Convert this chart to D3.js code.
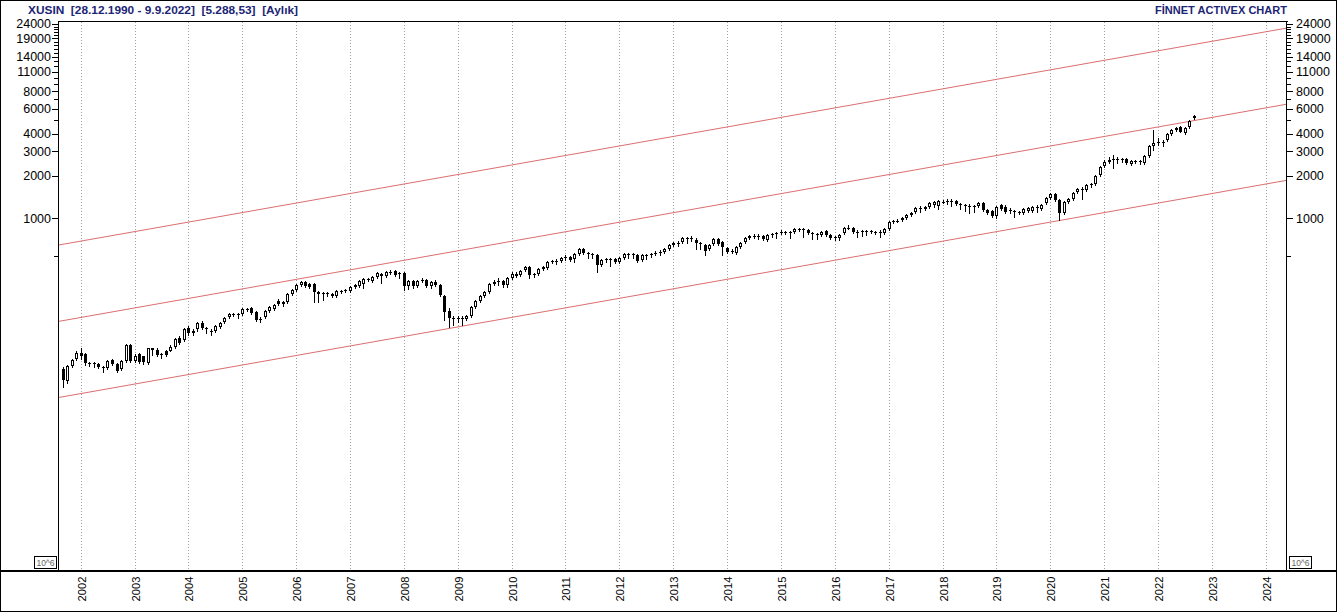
<!DOCTYPE html>
<html><head><meta charset="utf-8">
<script src="https://cdn.jsdelivr.net/npm/d3@7"></script>
<style>
body{margin:0;background:#fff}
svg{display:block}
text{font-family:"Liberation Sans",Arial,sans-serif}
</style>
</head><body>
<svg id="c" width="1337" height="612"></svg>
<script>
// ---- data (monthly XUSIN candles) ----
const firstMonth = [2001, 8]; // Sep 2001
const opens = [
85.7,70.4,90.1,101,
111.4,109.6,94.6,93.0,93.0,88.6,87.1,99.3,93.0,85.7,97.7,127,
97.7,109.6,104.4,94.6,119.0,117.0,107.8,115.1,115.1,122.9,142.4,137.8,
165.1,152.1,162.4,179.2,165.1,159.7,157.2,167.8,182.1,197.6,207.6,207.6,
207.6,225.3,229.0,214.5,191.3,197.6,218.1,225.3,256.9,244.5,252.7,288.0,
307.5,333.8,350.6,339.3,339.3,297.6,288.0,292.8,288.0,278.8,302.5,302.5,
302.5,333.8,328.4,339.3,368.3,356.4,380.5,399.7,386.8,413.0,419.8,399.7,
406.3,328.4,356.4,328.4,356.4,362.3,328.4,350.6,333.8,278.8,218.1,194.4,
194.4,194.4,191.3,200.9,232.8,256.9,278.8,297.6,339.3,350.6,356.4,333.8,
374.3,399.7,393.2,426.7,448.2,403,399.7,433.8,440.9,486.5,494.5,494.5,
519.4,528.0,510.9,554.5,601.9,563.7,554.5,545.5,463.1,502.7,510.9,510.9,
486.5,519.4,554.5,554.5,545.5,502.7,545.5,545.5,554.5,563.7,573.0,601.9,
642.7,664.1,675.0,720.7,709.0,697.5,664.1,642.7,601.9,653.3,709.0,675.0,
611.8,582.5,563.7,621.9,675.0,720.7,744.7,744.7,744.7,697.5,757.0,769.5,
782.2,795.1,795.1,795.1,835.1,835.1,821.6,782.2,769.5,757.0,808.3,757.0,
720.7,720.7,782.2,848.9,848.9,795.1,795.1,808.3,808.3,795.1,795.1,782.2,
835.1,936.6,952.1,967.8,1000,1050,1103,1178,1197,1197,1237,1217,
1300,1300,1321,1321,1258,1237,1217,1217,1217,1278,1140,1121,
1033,1237,1197,1121,1121,1103,1085,1121,1121,1197,1159,1278,
1388,1481,1343,1085,1300,1365,1531,1608,1582,1717,1745,2022,
2343,2502,2585,2628,2628,2628,2421,2543,2543,2461,2760,3251,
3415,3472,3587,3958,4226,4438,4023,4438,5143
];
const highs = [
88.6,91.5,101,115.1,
120.9,111.4,96.1,96.1,94.6,90.1,99.3,101,94.6,99.3,129.1,129.1,
109.6,111.4,106.1,120.9,120.9,119.0,111.4,117.0,125,142.4,144.8,165.1,
170.6,162.4,182.1,185.1,167.8,162.4,173.4,182.1,197.6,211.0,211.0,211.0,
229.0,229.0,232.8,218.1,197.6,221.7,236.7,244.5,265.4,256.9,292.8,312.6,
339.3,356.4,356.4,344.9,344.9,302.5,297.6,297.6,292.8,307.5,307.5,312.6,
328.4,339.3,362.3,374.3,374.3,386.8,413.0,406.3,419.8,426.7,426.7,413.0,
413.0,362.3,362.3,362.3,374.3,368.3,356.4,362.3,339.3,283.4,229.0,200.9,
200.9,200.9,204.2,236.7,261.1,283.4,302.5,344.9,362.3,374.3,362.3,380.5,
413.0,413.0,426.7,455.6,455.6,406.3,440.9,455.6,494.5,502.7,510.9,528.0,
545.5,536.7,563.7,611.8,611.8,573.0,563.7,554.5,510.9,519.4,519.4,519.4,
528.0,563.7,563.7,563.7,554.5,554.5,554.5,563.7,582.5,592.1,611.8,653.3,
675.0,686.2,732.6,732.6,744.7,720.7,675.0,653.3,653.3,720.7,720.7,686.2,
621.9,601.9,632.2,675.0,732.6,757.0,769.5,769.5,757.0,769.5,782.2,795.1,
821.6,808.3,808.3,848.9,848.9,848.9,835.1,795.1,782.2,808.3,821.6,769.5,
744.7,769.5,862.9,891.7,862.9,821.6,821.6,821.6,821.6,808.3,821.6,848.9,
952.1,967.8,983.8,1017,1068,1103,1197,1217,1217,1300,1321,1343,
1343,1365,1365,1343,1278,1258,1258,1237,1300,1300,1159,1140,
1217,1258,1237,1178,1140,1121,1178,1197,1217,1237,1258,1410,
1506,1506,1365,1321,1388,1531,1634,1661,1745,1774,2022,2343,
2585,2716,2806,2716,2671,2671,2585,2585,2585,2806,3305,4226,
3707,3587,4023,4295,4438,4512,4438,4978,5402
];
const lows = [
63.9,68.2,88.6,99.3,
101,91.5,90.1,88.6,87.1,81.6,85.7,91.5,81.6,84.3,96.1,96.1,
96.1,94.6,93.0,93.0,107.8,106.1,102.7,106.1,113.3,120.9,129.1,135.6,
149.6,147.2,159.7,162.4,152.1,149.6,154.6,165.1,179.2,194.4,200.9,194.4,
204.2,218.1,207.6,185.1,182.1,194.4,214.5,221.7,240.6,236.7,248.6,283.4,
302.5,328.4,323.0,317.8,252.7,252.7,261.1,278.8,274.2,274.2,292.8,297.6,
297.6,317.8,323.0,317.8,356.4,350.6,374.3,344.9,380.5,399.7,386.8,374.3,
307.5,312.6,317.8,323.0,350.6,323.0,317.8,328.4,278.8,188.2,167.8,173.4,
182.1,173.4,188.2,197.6,229.0,252.7,274.2,292.8,333.8,333.8,323.0,323.0,
368.3,380.5,386.8,419.8,374.3,380.5,393.2,426.7,433.8,478.6,470.8,486.5,
502.7,494.5,486.5,545.5,554.5,519.4,519.4,413.0,455.6,486.5,455.6,478.6,
478.6,515,519.4,519.4,486.5,494.5,510.9,528.0,545.5,545.5,563.7,592.1,
632.2,632.2,664.1,664.1,686.2,601.9,601.9,545.5,592.1,642.7,642.7,545.5,
563.7,563.7,554.5,611.8,664.1,709.0,720.7,709.0,697.5,686.2,732.6,720.7,
769.5,769.5,720.7,782.2,808.3,732.6,769.5,709.0,709.0,744.7,744.7,709.0,
697.5,697.5,769.5,835.1,782.2,732.6,744.7,757.0,782.2,769.5,732.6,769.5,
821.6,921.4,936.6,952.1,983.8,1033,1085,1103,1140,1178,1197,1159,
1278,1258,1217,1237,1159,1121,1085,1103,1197,1121,1068,1017,
1000,1140,1085,1085,1017,1068,1068,1103,1103,1103,1140,1258,
1365,1321,967.8,1068,1278,1343,1506,1365,1556,1661,1717,1989,
2305,2461,2268,2461,2502,2421,2382,2461,2421,2421,2716,3045,
3305,3251,3529,3893,4157,4090,3958,4366,5060
];
const closes = [
71.6,90.1,99.3,111.4,
104.4,94.6,93.0,94.6,88.6,87.1,97.7,93.0,83.0,97.7,127,97.7,
106.1,96.1,96.1,119.0,117.0,107.8,109.6,107.8,122.9,140.1,131.2,162.4,
152.1,159.7,179.2,165.1,162.4,157.2,170.6,179.2,194.4,207.6,209,204.2,
225.3,226,211.0,188.2,188.2,218.1,232.8,240.6,244.5,252.7,288.0,307.5,
333.8,350.6,328.4,323.0,297.6,288.0,292.8,290,278.8,302.5,300,307.5,
323.0,323.0,356.4,368.3,370,380.5,406.3,386.8,413.0,415,393.2,406.3,
328.4,356.4,328.4,356.4,362.3,328.4,350.6,333.8,283.4,214.5,194.4,196,
193,191.3,200.9,232.8,256.9,278.8,297.6,339.3,350.6,356.4,333.8,374.3,
399.7,386.8,419.8,448.2,393.2,393.2,433.8,448.2,486.5,494.5,490,519.4,
528.0,502.7,554.5,601.9,563.7,554.5,545.5,463.1,502.7,510.9,502.7,486.5,
519.4,554.5,557,545.5,494.5,545.5,548,554.5,563.7,573.0,601.9,642.7,
664.1,667,720.7,709.0,720.7,664.1,653.3,582.5,642.7,709.0,653.3,621.9,
573.0,585,621.9,664.1,720.7,744.7,748,742,709.0,757.0,769.5,782.2,
795.1,792,782.2,835.1,832,821.6,782.2,769.5,757.0,795.1,757.0,720.7,
732.6,757.0,848.9,852,795.1,798,808.3,805,795.1,798,792,835.1,
936.6,952.1,955,1000,1050,1085,1178,1175,1159,1278,1300,1321,
1305,1321,1318,1258,1237,1217,1212,1220,1278,1140,1085,1033,
1197,1159,1103,1140,1103,1100,1159,1178,1197,1195,1237,1388,
1481,1343,1085,1300,1365,1506,1608,1582,1717,1745,1989,2305,
2502,2585,2628,2620,2585,2461,2543,2550,2535,2760,3251,3415,
3472,3460,3958,4226,4366,4090,4366,4897,5288.53
];
const yTickLabels = [1000, 2000, 3000, 4000, 6000, 8000, 11000, 14000, 19000, 24000];
const yMinorTicks = [540, 1000, 2000, 3000, 4000, 5000, 6000, 7000, 8000, 9000, 10000, 11000, 12000,
  13000, 14000, 15000, 16000, 17000, 18000, 19000, 20000, 21000, 22000, 23000, 24000];
const yearLabels = ["2002","2003","2004","2005","2006","2007","2008","2009","2010","2011","2012","2013",
  "2014","2015","2016","2017","2018","2019","2020","2021","2022","2023","2024"];
const channelDates = ["2001-07-31", "2024-05-25"];
const channelUpper = [645, 22460];
const channelMiddle = [185, 6470];
const channelLower = [53.3, 1863];
const titleText = "XUSIN  [28.12.1990 - 9.9.2022]  [5.288,53]  [Aylık]";
const brandText = "FİNNET ACTIVEX CHART";

// ---- layout ----
const W = 1337, H = 612;
const L = 58, R = 1287, T = 21, B = 570;
const svg = d3.select("#c");
svg.append("rect").attr("x",0).attr("y",0).attr("width",W).attr("height",H).attr("fill","#fff");

const parse = d3.timeParse("%Y-%m-%d");
const x = d3.scaleTime().domain([new Date(2001,6,31), new Date(2024,4,25)]).range([L, R]);
const y = d3.scaleLog().domain([3.18, 25200]).range([B, T]);

const months = opens.map((_, i) => new Date(firstMonth[0], firstMonth[1] + i, 1));

svg.append("clipPath").attr("id","plot").append("rect")
  .attr("x",L+1).attr("y",T+1).attr("width",R-L-2).attr("height",B-T);

// grid
const gGrid = svg.append("g").attr("shape-rendering","crispEdges");
yearLabels.forEach(s => {
  const gx = Math.round(x(new Date(+s,0,1))) + 0.5;
  gGrid.append("line").attr("x1",gx).attr("x2",gx).attr("y1",T+1).attr("y2",B)
    .attr("stroke","#a0a0a0").attr("stroke-dasharray","1,2");
});

// channel lines
const gCh = svg.append("g").attr("clip-path","url(#plot)");
const cd = channelDates.map(parse);
[channelUpper, channelMiddle, channelLower].forEach(vals => {
  gCh.append("line")
    .attr("x1", x(cd[0])).attr("y1", y(vals[0]))
    .attr("x2", x(cd[1])).attr("y2", y(vals[1]))
    .attr("stroke","#dc6e6e").attr("stroke-width",1);
});

// candles
const gC = svg.append("g").attr("shape-rendering","crispEdges").attr("clip-path","url(#plot)");
months.forEach((d, i) => {
  const cx = Math.round(x(d));
  const o = opens[i], c = closes[i], h = highs[i], l = lows[i];
  gC.append("line").attr("x1",cx+0.5).attr("x2",cx+0.5)
    .attr("y1",Math.round(y(h))).attr("y2",Math.round(y(l))+1).attr("stroke","#000");
  const yt = Math.round(y(Math.max(o,c))), yb = Math.round(y(Math.min(o,c)));
  if (yb - yt < 2) {
    gC.append("rect").attr("x",cx-1).attr("y",yt).attr("width",3).attr("height",1).attr("fill","#000");
  } else if (c >= o) {
    gC.append("rect").attr("x",cx-0.5).attr("y",yt+0.5).attr("width",2).attr("height",yb-yt-1)
      .attr("fill","#fff").attr("stroke","#000");
  } else {
    gC.append("rect").attr("x",cx-1).attr("y",yt).attr("width",3).attr("height",yb-yt).attr("fill","#000");
  }
});

// frame
const gF = svg.append("g").attr("shape-rendering","crispEdges");
gF.append("rect").attr("x",0.5).attr("y",0.5).attr("width",W-1).attr("height",H-1)
  .attr("fill","none").attr("stroke","#000");
gF.append("line").attr("x1",L).attr("x2",R+1).attr("y1",T+0.5).attr("y2",T+0.5).attr("stroke","#000");
gF.append("line").attr("x1",L+0.5).attr("x2",L+0.5).attr("y1",T).attr("y2",B+1).attr("stroke","#000");
gF.append("line").attr("x1",R-0.5).attr("x2",R-0.5).attr("y1",T).attr("y2",B+1).attr("stroke","#000");
gF.append("line").attr("x1",1).attr("x2",W-1).attr("y1",571).attr("y2",571).attr("stroke","#000").attr("stroke-width",2);

// y axes (ticks)
yMinorTicks.forEach(v => {
  const ty = Math.round(y(v)) + 0.5;
  const major = yTickLabels.includes(v);
  const len = major ? 6 : 4;
  gF.append("line").attr("x1",L-len).attr("x2",L).attr("y1",ty).attr("y2",ty).attr("stroke","#000");
  gF.append("line").attr("x1",R).attr("x2",R+len).attr("y1",ty).attr("y2",ty).attr("stroke","#000");
});
yTickLabels.forEach(v => {
  const ty = y(v);
  svg.append("text").attr("x",51).attr("y",ty).attr("dy","0.36em").attr("text-anchor","end")
    .attr("font-size",12.5).attr("fill","#000").text(v);
  svg.append("text").attr("x",1296).attr("y",ty).attr("dy","0.36em").attr("text-anchor","start")
    .attr("font-size",12.5).attr("fill","#000").text(v);
});

// 10^6 boxes
[[34.5, "start"], [1289.5, "start"]].forEach(([bx]) => {
  gF.append("rect").attr("x",bx).attr("y",556.5).attr("width",22).attr("height",12)
    .attr("fill","#fff").attr("stroke","#000");
  svg.append("text").attr("x",bx+11).attr("y",566).attr("text-anchor","middle")
    .attr("font-size",8.5).attr("fill","#666").text("10^6");
});

// x labels
yearLabels.forEach(s => {
  const gx = Math.round(x(new Date(+s,0,1))) + 0.5;
  svg.append("text").attr("transform",`translate(${gx},589) rotate(-90)`)
    .attr("text-anchor","middle").attr("dy","0.36em").attr("font-size",11.2).attr("fill","#000").text(s);
});

// titles
svg.append("text").attr("x",28).attr("y",13.5).attr("font-size",11.5).attr("font-weight","bold")
  .attr("fill","#1c2575").attr("textLength",270).attr("lengthAdjust","spacingAndGlyphs")
  .attr("xml:space","preserve").style("white-space","pre").text(titleText);
svg.append("text").attr("x",1287).attr("y",13.5).attr("text-anchor","end").attr("font-size",11.5)
  .attr("font-weight","bold").attr("fill","#1c2575").attr("textLength",132)
  .attr("lengthAdjust","spacingAndGlyphs").text(brandText);
</script>
</body></html>
